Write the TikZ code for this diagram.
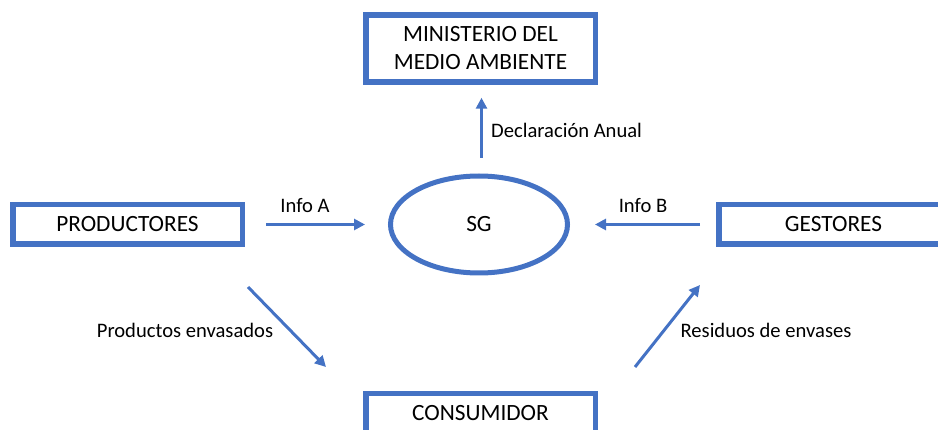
\documentclass[tikz,border=0pt]{standalone}
\usepackage{fontspec}
\setmainfont{Carlito}
\usetikzlibrary{arrows.meta,shapes.geometric}
\definecolor{officeblue}{HTML}{4472C4}
\begin{document}
\begin{tikzpicture}[x=1pt,y=-1pt,
  boxnode/.style={draw=officeblue, line width=5.5pt, minimum width=229.5pt, minimum height=39.5pt,
    inner sep=0pt, outer sep=2.75pt, font=\fontsize{23.3}{28}\selectfont, align=center},
  sgnode/.style={ellipse, draw=officeblue, line width=5pt, minimum width=177pt, minimum height=97pt,
    inner sep=0pt, outer sep=2.5pt, font=\fontsize{23.3}{28}\selectfont},
  lbl/.style={inner sep=0pt, font=\fontsize{20.6}{24}\selectfont},
  arr/.style={draw=officeblue, line width=3pt, -{Triangle[length=11pt,width=11pt]}}]
\useasboundingbox (0,0) rectangle (938,430);
\clip (0,0) rectangle (938,430);
\node[boxnode, minimum height=67pt] (min) at (480.5,48.5) {MINISTERIO DEL\\MEDIO AMBIENTE};
\node[boxnode] (prod) at (127.5,224.5) {PRODUCTORES};
\node[boxnode] (gest) at (833.5,224.5) {GESTORES};
\node[boxnode] (cons) at (480.5,413.5) {CONSUMIDOR};
\node[sgnode] (sg) at (479,224.5) {SG};
\draw[arr, shorten <=21pt, shorten >=23pt] (prod.east) -- (sg.west);
\draw[arr, shorten <=16pt, shorten >=25pt] (gest.west) -- (sg.east);
\draw[arr, shorten <=15.5pt, shorten >=13pt] ([xshift=2.5pt]sg.north) -- ([xshift=1pt]min.south);
\draw[arr] ([xshift=3pt,yshift=-40pt]prod.south east) -- ([xshift=-37pt,yshift=24pt]cons.north west);
\draw[arr] ([xshift=37pt,yshift=24pt]cons.north east) -- ([xshift=-16pt,yshift=-38pt]gest.south west);
\node[lbl, anchor=base] (la) at (305,212.5) {Info A};
\node[lbl, anchor=base] (lb) at (643,212.5) {Info B};
\node[lbl, anchor=base west] (ld) at (491,138) {Declaración Anual};
\node[lbl, anchor=base] (lp) at (185,338) {Productos envasados};
\node[lbl, anchor=base] (lr) at (766,338) {Residuos de envases};
\end{tikzpicture}
\end{document}
